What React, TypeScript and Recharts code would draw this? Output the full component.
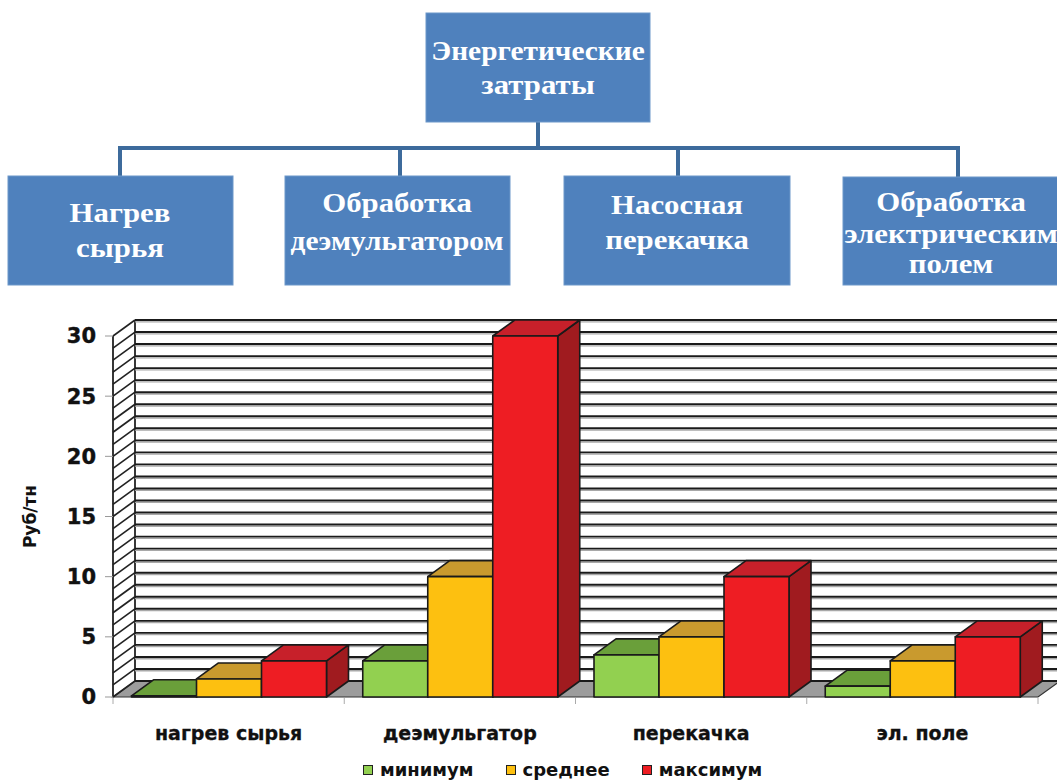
import React from 'react';
import { BarChart, Bar, XAxis, YAxis, CartesianGrid, Legend } from 'recharts';

// cost categories and values, rub per tonne
const categories = ['нагрев сырья', 'деэмульгатор', 'перекачка', 'эл. поле'];
const minimum = [0.1, 3, 3.5, 0.9];
const average = [1.5, 10, 5, 3];
const maximum = [3, 30, 10, 5];

const yTicks = [0, 5, 10, 15, 20, 25, 30];
const wallLines = [
  0, 1, 2, 3, 4, 5, 6, 7, 8, 9, 10, 11, 12, 13, 14, 15,
  16, 17, 18, 19, 20, 21, 22, 23, 24, 25, 26, 27, 28, 29, 30,
];

// scheme above the chart
const rootTitle = ['Энергетические', 'затраты'];
const branchTitles = [
  ['Нагрев', 'сырья'],
  ['Обработка', 'деэмульгатором'],
  ['Насосная', 'перекачка'],
  ['Обработка', 'электрическим', 'полем'],
];

const series = [
  { key: 'min', name: 'минимум', front: '#92D050', top: '#6A9F3A', side: '#5C8A2E' },
  { key: 'avg', name: 'среднее', front: '#FDC010', top: '#C99A2E', side: '#B8891F' },
  { key: 'max', name: 'максимум', front: '#EE1D23', top: '#C7202A', side: '#A01B1F' },
];

const data = categories.map((name, i) => ({
  name,
  min: minimum[i],
  avg: average[i],
  max: maximum[i],
}));

// depth of the pseudo-3d projection
const DX = 22;
const DY = 16;

const sans = '"DejaVu Sans", Verdana, sans-serif';
const serif = '"Liberation Serif", "Times New Roman", serif';

const Box3D = (props: any) => {
  const { x, y, width, height, palette } = props;
  if (width == null || height == null) return null;
  const r = x + width;
  const b = y + height;
  return (
    <g stroke="#1a1a1a" strokeWidth={1.6} strokeLinejoin="round">
      <polygon points={`${r},${y} ${r + DX},${y - DY} ${r + DX},${b - DY} ${r},${b}`} fill={palette.side} />
      <polygon points={`${x},${y} ${x + DX},${y - DY} ${r + DX},${y - DY} ${r},${y}`} fill={palette.top} />
      <rect x={x} y={y} width={width} height={height} fill={palette.front} />
    </g>
  );
};

// every horizontal grid line is drawn on the back wall and continued across the side wall
const WallLine = (props: any) => {
  const { x1, x2, y1, y, height } = props;
  const isFloor = Math.abs(y1 - (y + height)) < 0.5;
  return (
    <g key={props.key}>
      {isFloor && (
        <g>
          <polygon
            points={`${x1},${y1} ${x2},${y1} ${x2 + DX},${y1 - DY} ${x1 + DX},${y1 - DY}`}
            fill="#9c9c9c"
            stroke="#333"
            strokeWidth={1.2}
          />
          <line x1={x1} y1={y1} x2={x1} y2={y} stroke="#222" strokeWidth={1.8} />
          <line x1={x1 + DX} y1={y1 - DY} x2={x1 + DX} y2={y - DY} stroke="#222" strokeWidth={1.8} />
        </g>
      )}
      <line x1={x1} y1={y1} x2={x1 + DX} y2={y1 - DY} stroke="#222" strokeWidth={1.6} />
      {!isFloor && (
        <line x1={x1 + DX} y1={y1 - DY + 1.8} x2={x2 + DX} y2={y1 - DY + 1.8} stroke="#a8a8a8" strokeWidth={1.3} />
      )}
      <line x1={x1 + DX} y1={y1 - DY} x2={x2 + DX} y2={y1 - DY} stroke="#1a1a1a" strokeWidth={1.9} />
    </g>
  );
};

const CategoryTick = (props: any) => {
  const { x, y, payload, index, visibleTicksCount } = props;
  const half = payload && payload.offset ? payload.offset : 0;
  return (
    <g>
      {half > 0 && <line x1={x - half} y1={y + 1} x2={x - half} y2={y + 7} stroke="#aaa" />}
      {half > 0 && index === visibleTicksCount - 1 && (
        <line x1={x + half} y1={y + 1} x2={x + half} y2={y + 7} stroke="#aaa" />
      )}
      <text
        x={x}
        y={y + 43}
        textAnchor="middle"
        fontFamily={sans}
        fontWeight="bold"
        fontSize={19}
        fill="#111"
        stroke="#111"
        strokeWidth={0.3}
      >
        {payload.value}
      </text>
    </g>
  );
};

const AxisTitle = (props: any) => {
  const vb = props.viewBox || { x: 0, y: 0, height: 0 };
  const cx = 30;
  const cy = vb.y + vb.height / 2;
  return (
    <text
      x={cx}
      y={cy}
      transform={`rotate(-90 ${cx} ${cy})`}
      textAnchor="middle"
      dominantBaseline="central"
      fontFamily={sans}
      fontWeight="bold"
      fontSize={17}
      fill="#111"
    >
      Руб/тн
    </text>
  );
};

const LegendContent = () => (
  <div style={{ display: 'flex', alignItems: 'center', fontFamily: sans, fontWeight: 'bold', fontSize: 18, color: '#111' }}>
    {series.map((s) => (
      <div key={s.key} style={{ display: 'flex', alignItems: 'center', marginRight: 32 }}>
        <span
          style={{
            display: 'inline-block',
            width: 8,
            height: 8,
            background: s.front,
            border: '1px solid #222',
            marginRight: 7,
          }}
        />
        <span>{s.name}</span>
      </div>
    ))}
  </div>
);

// boxes of the cost structure scheme
const rootBox = { x: 426, y: 13, w: 224, h: 109, cx: 538, lines: [60, 94] };
const branchBoxes = [
  { x: 8, y: 176, w: 225, h: 109, cx: 120, lines: [222, 257] },
  { x: 285, y: 176, w: 225, h: 109, cx: 397, lines: [212, 250] },
  { x: 564, y: 176, w: 226, h: 109, cx: 677, lines: [214, 249] },
  { x: 843, y: 177, w: 226, h: 108, cx: 951, lines: [211, 243, 273] },
];
const busY = 148;

const BoxText = ({ cx, lines, text }: { cx: number; lines: number[]; text: string[] }) => (
  <g fill="#fff" fontFamily={serif} fontWeight="bold" fontSize={28}>
    {text.map((t, i) => (
      <text
        key={i}
        transform={`translate(${cx} ${lines[i]}) scale(${t.length > 13 ? 1.05 : 1.1} 1)`}
        textAnchor="middle"
      >
        {t}
      </text>
    ))}
  </g>
);

const Scheme = () => {
  const drops = [120, 400, 678, 958];
  return (
    <svg width={1057} height={300} style={{ position: 'absolute', left: 0, top: 0 }}>
      <g stroke="#3d6b9c" strokeWidth={4} fill="none">
        <line x1={rootBox.cx} y1={rootBox.y + rootBox.h} x2={rootBox.cx} y2={busY} />
        <line x1={drops[0]} y1={busY} x2={drops[drops.length - 1]} y2={busY} strokeLinecap="square" />
        {drops.map((c, i) => (
          <line key={i} x1={c} y1={busY} x2={c} y2={branchBoxes[i].y} />
        ))}
      </g>
      <rect x={rootBox.x} y={rootBox.y} width={rootBox.w} height={rootBox.h} fill="#4F81BD" stroke="#6d97c9" />
      <BoxText cx={rootBox.cx} lines={rootBox.lines} text={rootTitle} />
      {branchBoxes.map((b, i) => (
        <g key={i}>
          <rect x={b.x} y={b.y} width={b.w} height={b.h} fill="#4F81BD" stroke="#6d97c9" />
          <BoxText cx={b.cx} lines={b.lines} text={branchTitles[i]} />
        </g>
      ))}
    </svg>
  );
};

export default function App() {
  return (
    <div style={{ position: 'absolute', left: 0, top: 0, width: 1057, height: 780, background: '#fff', overflow: 'hidden' }}>
      <div style={{ position: 'absolute', left: 0, top: 0 }}>
        <BarChart
          width={1057}
          height={780}
          data={data}
          margin={{ top: 336, right: 19, bottom: 33, left: 0 }}
          barCategoryGap="8%"
          barGap={0}
        >
          <CartesianGrid vertical={false} horizontalValues={wallLines} horizontal={WallLine} />
          <XAxis
            dataKey="name"
            axisLine={false}
            tickLine={false}
            tickSize={0}
            tickMargin={0}
            height={50}
            interval={0}
            tick={<CategoryTick />}
          />
          <YAxis
            width={113}
            domain={[0, 30]}
            ticks={yTicks}
            interval={0}
            axisLine={false}
            tickLine={{ stroke: '#999' }}
            tickSize={8}
            tickMargin={9}
            tick={{ fontFamily: sans, fontWeight: 'bold', fontSize: 21, fill: '#111', stroke: '#111', strokeWidth: 0.4 }}
            label={{ content: <AxisTitle /> }}
          />
          <Legend
            verticalAlign="middle"
            align="center"
            wrapperStyle={{ position: 'absolute', left: 363, top: 759, width: 480 }}
            content={<LegendContent />}
          />
          {series.map((s) => (
            <Bar
              key={s.key}
              dataKey={s.key}
              name={s.name}
              isAnimationActive={false}
              shape={(p: any) => <Box3D {...p} palette={s} />}
            />
          ))}
        </BarChart>
      </div>
      <Scheme />
    </div>
  );
}
